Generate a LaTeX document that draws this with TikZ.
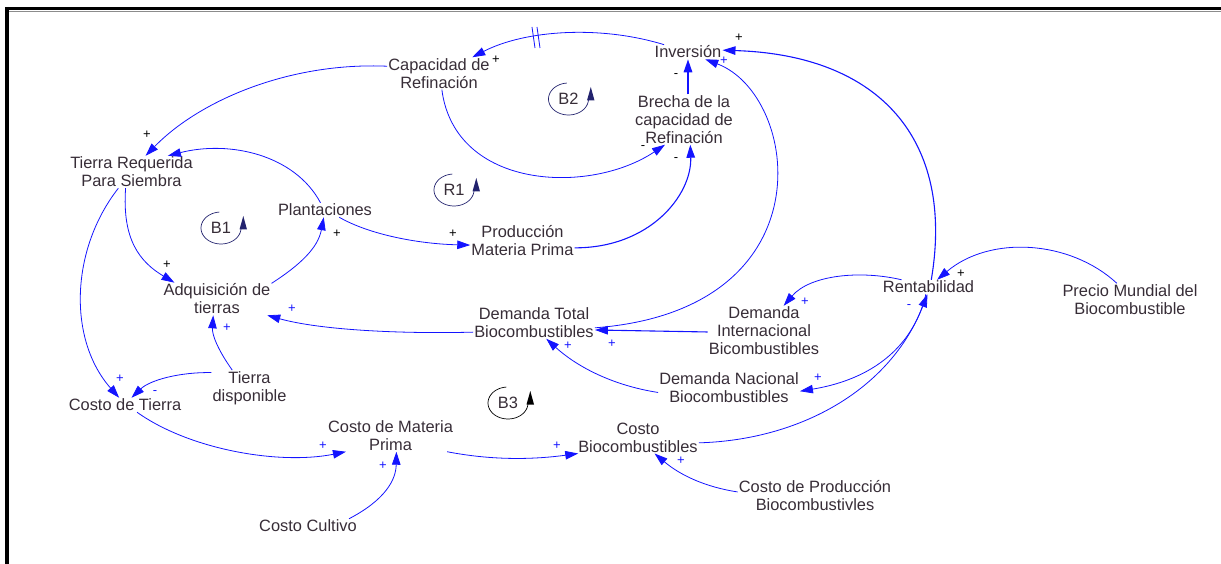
\documentclass[tikz,border=0pt]{standalone}
\usepackage{fontspec}
\setmainfont{Liberation Sans}
\usetikzlibrary{arrows.meta}

\definecolor{vblue}{RGB}{20,20,255}
\definecolor{vtext}{RGB}{55,45,55}
\definecolor{vloop}{RGB}{35,35,110}

\begin{document}
\begin{tikzpicture}[x=1pt, y=-1pt,
    var/.style={align=center, inner sep=1pt, text=vtext, font=\fontsize{16.4}{18}\selectfont},
    link/.style={draw=vblue, line width=0.8pt, -{Triangle[length=13pt,width=8.5pt]}},
    pol/.style={font=\fontsize{13}{13}\selectfont, inner sep=0pt},
    pics/loopmark/.style 2 args={code={
        \draw[#2, line width=0.7pt]
          plot[domain=265:-2, samples=40] ({20*cos(\x)}, {16*sin(\x)});
        \fill[#2] (18.5,1.5) -- (26,1.5) -- (22.3,-12) -- cycle;
        \node[var] (-txt) at (0,0) {#1};
    }}]
    \useasboundingbox (0,0) rectangle (1221,564);
    \draw[line width=3.5pt] (5,8.7) -- (1221,8.7);
    \draw[black!45, line width=0.8pt] (9,11.2) -- (1221,11.2);
    \draw[line width=3.5pt] (7.2,7) -- (7.2,564);

    \node[var] (cap) at (439,73.5) {Capacidad de\\Refinación};
    \node[var] (inv) at (688,52) {Inversión};
    \node[var] (brecha) at (684,119.5) {Brecha de la\\capacidad de\\Refinación};
    \node[var] (tierra) at (131.5,172) {Tierra Requerida\\Para Siembra};
    \node[var] (plant) at (325,210) {Plantaciones};
    \node[var] (prod) at (522.5,240.5) {Producción\\Materia Prima};
    \node[var] (adq) at (217,299) {Adquisición de\\tierras};
    \node[var] (dtot) at (534,322.5) {Demanda Total\\Biocombustibles};
    \node[var] (dint) at (764,331) {Demanda\\Internacional\\Bicombustibles};
    \node[var] (rent) at (928.5,287) {Rentabilidad};
    \node[var] (precio) at (1130,299.5) {Precio Mundial del\\Biocombustible};
    \node[var] (dnac) at (729,387.5) {Demanda Nacional\\Biocombustibles};
    \node[var] (tdisp) at (249.5,388) {Tierra\\disponible};
    \node[var] (ctierra) at (125,405) {Costo de Tierra};
    \node[var] (cmat) at (390.5,435.5) {Costo de Materia\\Prima};
    \node[var] (cbio) at (638,437.5) {Costo\\Biocombustibles};
    \node[var] (cprod) at (815,496) {Costo de Producción\\Biocombustivles};
    \node[var] (ccult) at (308,526) {Costo Cultivo};

    % loops
    \pic (b2) at (568.5,99) {loopmark={B2}{vloop}};
    \pic (r1) at (454,190) {loopmark={R1}{vloop}};
    \pic (b1) at (221,228) {loopmark={B1}{vloop}};
    \pic (b3) at (508,403) {loopmark={B3}{black}};

    \draw[link] (inv.163) .. controls (600,25) and (525,30) .. (cap.26);
    \draw[vblue, line width=0.8pt] (532,27) -- (535,48) (537,27) -- (540,48);
    \draw[link] (cap.172) .. controls (290,62) and (200,100) .. (tierra.49);
    \draw[link] (cap.280) .. controls (455,190) and (590,195) .. (brecha.233);
    \draw[link, line width=1.6pt] (inv.south |- brecha.north) -- (inv.south);
    \draw[link] (plant.122) .. controls (295,155) and (230,140) .. (tierra.24);
    \draw[link] (tierra.250) .. controls (122,240) and (140,262) .. (adq.159);
    \draw[link] (tierra.231) .. controls (70,250) and (68,340) .. (ctierra.129);
    \draw[link] (adq.16) .. controls (300,265) and (318,248) .. (plant.260);
    \draw[link] (plant.333) .. controls (370,235) and (420,244) .. (prod.185);
    \draw[link, line width=1.1pt] (prod.352) .. controls (650,248) and (692,195) .. (brecha.284);
    \draw[link] (dtot.355) .. controls (830,310) and (800,95) .. (inv.337);
    \draw[link, line width=1.1pt] (dint.181) -- (dtot.353);
    \draw[link] (dnac.184) .. controls (610,385) and (575,365) .. (dtot.307);
    \draw[link] (dtot.189) .. controls (400,334) and (320,330) .. (adq.342);
    \draw[link] (tdisp.134) .. controls (218,350) and (212,335) .. (adq.257);
    \draw[link] (tdisp.158) .. controls (180,372) and (150,380) .. (ctierra.48);
    \draw[link] (ctierra.329) .. controls (190,450) and (280,465) .. (cmat.200);
    \draw[link] (ccult.10) .. controls (385,500) and (396,480) .. (cmat.290);
    \draw[link] (cmat.344) .. controls (490,460) and (530,460) .. (cbio.195);
    \draw[link] (cprod.177) .. controls (705,487) and (680,475) .. (cbio.316);
    \draw[link] (cbio.355) .. controls (800,440) and (890,390) .. (rent.262);
    \draw[link] (rent.250) .. controls (915,340) and (880,378) .. (dnac.357);
    \draw[link] (rent.165) .. controls (860,270) and (810,275) .. (dint.52);
    \draw[link, line width=1.1pt] (rent.69) .. controls (955,140) and (880,55) .. (inv.3);
    \draw[link] (precio.129) .. controls (1070,240) and (990,235) .. (rent.40);

    % polarities
    \foreach \px/\py/\s [count=\i] in {496/60/+, 147/135/+, 643/148/-, 676/76/-,
        676/160/-, 739/38/+, 167/265/+, 337/234/+, 453/234/+, 961/274/+}
      \node[pol] (pk\i) at (\px,\py) {\s};
    \foreach \px/\py/\s [count=\i] in {724/61/+, 292/309/+, 227/328/+, 120/379/+,
        155/393/-, 323/446/+, 383/466/+, 557/446/+, 681/461/+, 568/346/+,
        612/344/+, 805/302/+, 818/378/+, 909/307/-}
      \node[pol, text=vblue] (pb\i) at (\px,\py) {\s};
\end{tikzpicture}
\end{document}
